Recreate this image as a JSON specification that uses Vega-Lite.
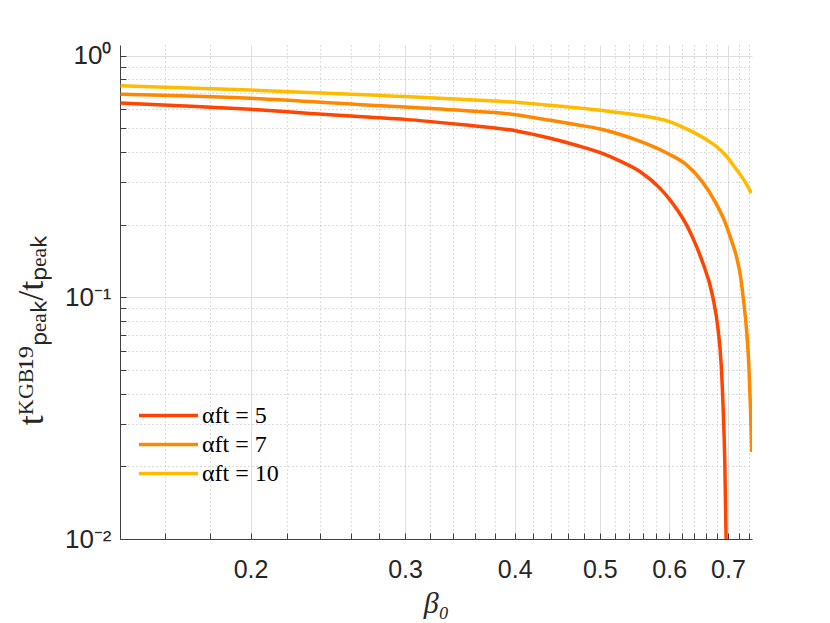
{
  "$schema": "https://vega.github.io/schema/vega-lite/v6.json",
  "width": 632,
  "height": 494,
  "autosize": {"type": "none"},
  "padding": {"left": 120, "top": 45, "right": 78, "bottom": 84},
  "background": "white",
  "config": {"view": {"stroke": null}},
  "data": {
    "values": [
      {"alpha": "αft = 5", "beta0": 0.1422, "ratio": 0.637},
      {"alpha": "αft = 5", "beta0": 0.1687, "ratio": 0.619},
      {"alpha": "αft = 5", "beta0": 0.2, "ratio": 0.600},
      {"alpha": "αft = 5", "beta0": 0.2341, "ratio": 0.577},
      {"alpha": "αft = 5", "beta0": 0.2741, "ratio": 0.556},
      {"alpha": "αft = 5", "beta0": 0.3, "ratio": 0.545},
      {"alpha": "αft = 5", "beta0": 0.347, "ratio": 0.519},
      {"alpha": "αft = 5", "beta0": 0.4008, "ratio": 0.489},
      {"alpha": "αft = 5", "beta0": 0.439, "ratio": 0.455},
      {"alpha": "αft = 5", "beta0": 0.469, "ratio": 0.427},
      {"alpha": "αft = 5", "beta0": 0.5008, "ratio": 0.397},
      {"alpha": "αft = 5", "beta0": 0.5277, "ratio": 0.366},
      {"alpha": "αft = 5", "beta0": 0.5561, "ratio": 0.331},
      {"alpha": "αft = 5", "beta0": 0.5861, "ratio": 0.2818},
      {"alpha": "αft = 5", "beta0": 0.6002, "ratio": 0.2551},
      {"alpha": "αft = 5", "beta0": 0.6274, "ratio": 0.2003},
      {"alpha": "αft = 5", "beta0": 0.6399, "ratio": 0.1725},
      {"alpha": "αft = 5", "beta0": 0.6535, "ratio": 0.1426},
      {"alpha": "αft = 5", "beta0": 0.6728, "ratio": 0.1},
      {"alpha": "αft = 5", "beta0": 0.6822, "ratio": 0.0731},
      {"alpha": "αft = 5", "beta0": 0.6875, "ratio": 0.0532},
      {"alpha": "αft = 5", "beta0": 0.6915, "ratio": 0.0331},
      {"alpha": "αft = 5", "beta0": 0.6942, "ratio": 0.0205},
      {"alpha": "αft = 5", "beta0": 0.6965, "ratio": 0.01},
      {"alpha": "αft = 5", "beta0": 0.697, "ratio": 0.008},
      {"alpha": "αft = 7", "beta0": 0.1422, "ratio": 0.692},
      {"alpha": "αft = 7", "beta0": 0.2, "ratio": 0.666},
      {"alpha": "αft = 7", "beta0": 0.2741, "ratio": 0.624},
      {"alpha": "αft = 7", "beta0": 0.3, "ratio": 0.613},
      {"alpha": "αft = 7", "beta0": 0.347, "ratio": 0.594},
      {"alpha": "αft = 7", "beta0": 0.4008, "ratio": 0.570},
      {"alpha": "αft = 7", "beta0": 0.439, "ratio": 0.540},
      {"alpha": "αft = 7", "beta0": 0.469, "ratio": 0.519},
      {"alpha": "αft = 7", "beta0": 0.5008, "ratio": 0.497},
      {"alpha": "αft = 7", "beta0": 0.5277, "ratio": 0.472},
      {"alpha": "αft = 7", "beta0": 0.5561, "ratio": 0.442},
      {"alpha": "αft = 7", "beta0": 0.5861, "ratio": 0.408},
      {"alpha": "αft = 7", "beta0": 0.6007, "ratio": 0.390},
      {"alpha": "αft = 7", "beta0": 0.6274, "ratio": 0.354},
      {"alpha": "αft = 7", "beta0": 0.6539, "ratio": 0.302},
      {"alpha": "αft = 7", "beta0": 0.6753, "ratio": 0.252},
      {"alpha": "αft = 7", "beta0": 0.6952, "ratio": 0.203},
      {"alpha": "αft = 7", "beta0": 0.7062, "ratio": 0.1725},
      {"alpha": "αft = 7", "beta0": 0.7164, "ratio": 0.1453},
      {"alpha": "αft = 7", "beta0": 0.7239, "ratio": 0.1201},
      {"alpha": "αft = 7", "beta0": 0.7284, "ratio": 0.1},
      {"alpha": "αft = 7", "beta0": 0.735, "ratio": 0.0731},
      {"alpha": "αft = 7", "beta0": 0.7392, "ratio": 0.0532},
      {"alpha": "αft = 7", "beta0": 0.7427, "ratio": 0.0341},
      {"alpha": "αft = 7", "beta0": 0.745, "ratio": 0.0229},
      {"alpha": "αft = 10", "beta0": 0.1422, "ratio": 0.751},
      {"alpha": "αft = 10", "beta0": 0.2, "ratio": 0.721},
      {"alpha": "αft = 10", "beta0": 0.2741, "ratio": 0.688},
      {"alpha": "αft = 10", "beta0": 0.3, "ratio": 0.677},
      {"alpha": "αft = 10", "beta0": 0.347, "ratio": 0.660},
      {"alpha": "αft = 10", "beta0": 0.4008, "ratio": 0.641},
      {"alpha": "αft = 10", "beta0": 0.439, "ratio": 0.623},
      {"alpha": "αft = 10", "beta0": 0.5008, "ratio": 0.594},
      {"alpha": "αft = 10", "beta0": 0.5465, "ratio": 0.571},
      {"alpha": "αft = 10", "beta0": 0.6002, "ratio": 0.533},
      {"alpha": "αft = 10", "beta0": 0.6286, "ratio": 0.497},
      {"alpha": "αft = 10", "beta0": 0.6626, "ratio": 0.448},
      {"alpha": "αft = 10", "beta0": 0.6802, "ratio": 0.419},
      {"alpha": "αft = 10", "beta0": 0.6952, "ratio": 0.388},
      {"alpha": "αft = 10", "beta0": 0.7136, "ratio": 0.343},
      {"alpha": "αft = 10", "beta0": 0.7325, "ratio": 0.300},
      {"alpha": "αft = 10", "beta0": 0.7441, "ratio": 0.270}
    ]
  },
  "mark": {"type": "line", "strokeWidth": 3.5, "clip": true, "interpolate": "monotone"},
  "encoding": {
    "x": {
      "field": "beta0",
      "type": "quantitative",
      "scale": {"type": "log", "domain": [0.142, 0.7455], "nice": false},
      "axis": {
        "title": "β₀",
        "values": [0.16, 0.18, 0.2, 0.22, 0.24, 0.26, 0.28, 0.3, 0.32, 0.34, 0.36, 0.38, 0.4, 0.42, 0.44, 0.46, 0.48, 0.5, 0.52, 0.54, 0.56, 0.58, 0.6, 0.62, 0.64, 0.66, 0.68, 0.7, 0.72, 0.74],
        "labelExpr": "indexof([0.2, 0.3, 0.4, 0.5, 0.6, 0.7], datum.value) >= 0 ? format(datum.value, '.1f') : ''",
        "labelFont": "Liberation Sans",
        "labelFontSize": 25,
        "labelColor": "#262626",
        "labelPadding": 24,
        "labelOverlap": false,
        "labelFlush": false,
        "tickSize": -6,
        "tickColor": "#404040",
        "domainColor": "#404040",
        "grid": true,
        "gridColor": {"condition": {"test": "indexof([0.2, 0.3, 0.4, 0.5, 0.6, 0.7], datum.value) >= 0", "value": "#dedede"}, "value": "#b8b8b8"},
        "gridDash": {"condition": {"test": "indexof([0.2, 0.3, 0.4, 0.5, 0.6, 0.7], datum.value) >= 0", "value": []}, "value": [1, 3]},
        "titleFont": "Liberation Serif",
        "titleFontStyle": "italic",
        "titleFontWeight": "normal",
        "titleFontSize": 30,
        "titleColor": "#262626",
        "titleBaseline": "alphabetic",
        "titleY": 73
      }
    },
    "y": {
      "field": "ratio",
      "type": "quantitative",
      "scale": {"type": "log", "domain": [0.01, 1.107], "nice": false},
      "axis": {
        "title": "tᴷᴳᴮ¹⁹ₚₑₐₖ/tₚₑₐₖ",
        "values": [0.01, 0.02, 0.03, 0.04, 0.05, 0.06, 0.07, 0.08, 0.09, 0.1, 0.2, 0.3, 0.4, 0.5, 0.6, 0.7, 0.8, 0.9, 1],
        "labelExpr": "datum.value == 1 ? '10⁰' : datum.value == 0.1 ? '10⁻¹' : datum.value == 0.01 ? '10⁻²' : ''",
        "labelFont": "Liberation Sans",
        "labelFontSize": 26,
        "labelColor": "#262626",
        "labelPadding": 15,
        "labelOverlap": false,
        "labelFlush": false,
        "tickSize": -6,
        "tickColor": "#404040",
        "domainColor": "#404040",
        "grid": true,
        "gridColor": {"condition": {"test": "datum.value == 1 || datum.value == 0.1 || datum.value == 0.01", "value": "#dedede"}, "value": "#b8b8b8"},
        "gridDash": {"condition": {"test": "datum.value == 1 || datum.value == 0.1 || datum.value == 0.01", "value": []}, "value": [1, 3]},
        "titleFont": "Liberation Serif",
        "titleFontWeight": "normal",
        "titleFontSize": 36,
        "titleColor": "#262626",
        "titlePadding": 14,
        "titleY": 285
      }
    },
    "color": {
      "field": "alpha",
      "type": "nominal",
      "scale": {"domain": ["αft = 5", "αft = 7", "αft = 10"], "range": ["#ff4500", "#ff8800", "#ffbb00"]},
      "legend": {
        "orient": "none",
        "legendX": 32,
        "legendY": 354,
        "title": null,
        "symbolType": "M-2,0H2",
        "symbolSize": 870,
        "symbolStrokeWidth": 3.5,
        "labelFont": "Liberation Serif",
        "labelFontSize": 24,
        "labelColor": "#000000",
        "labelOffset": 17,
        "rowPadding": 0,
        "padding": 0
      }
    }
  }
}
